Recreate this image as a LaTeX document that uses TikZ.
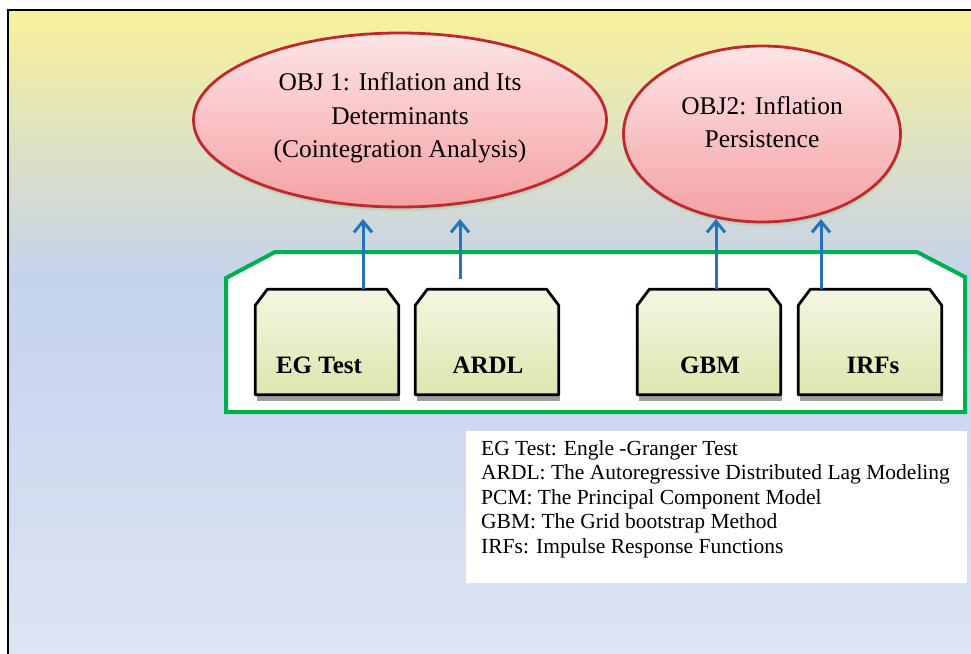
\documentclass[tikz,border=0pt]{standalone}
\usepackage{fontspec}
\setmainfont{Liberation Serif}
\usetikzlibrary{shapes.geometric,arrows.meta}
\definecolor{bgyel}{HTML}{F8F19A}
\definecolor{bgmid}{HTML}{E2E9BC}
\definecolor{bgblue}{HTML}{C4D2EC}
\definecolor{bgbot}{HTML}{DEE5F4}
\definecolor{ellred}{HTML}{C0282D}
\definecolor{elltop}{HTML}{FDE4E6}
\definecolor{ellbot}{HTML}{F4A1A4}
\definecolor{frgreen}{HTML}{00B050}
\definecolor{arrblue}{HTML}{2473BC}
\definecolor{boxtop}{HTML}{F3F7E2}
\definecolor{boxbot}{HTML}{DCE6AE}
\tikzset{
  objell/.style={ellipse, draw=ellred, line width=2.8pt, top color=elltop, bottom color=ellbot, inner sep=0pt},
  ellshadow/.style={ellipse, fill=black!60!green!40, opacity=0.35, inner sep=0pt},
  methbox/.style={rectangle, minimum width=143pt, minimum height=105pt, inner sep=0pt},
  boxline/.style={draw=black, line width=2.8pt, line join=round, top color=boxtop, bottom color=boxbot},
  shadowbox/.style={fill=black!38, minimum width=143pt, minimum height=6pt, inner sep=0pt},
  boxlabel/.style={font=\fontsize{25}{28}\selectfont\bfseries, anchor=base},
  objtext/.style={font=\fontsize{25.5}{33.5}\selectfont, align=center},
  uparr/.style={draw=arrblue, line width=3pt, -{Straight Barb[length=11pt,width=18pt,line width=3pt]}},
  legend/.style={fill=white, minimum width=501pt, minimum height=152pt, inner sep=0pt},
  legtext/.style={font=\fontsize{21.5}{24.5}\selectfont, align=left, anchor=north west, inner sep=0pt}
}
\begin{document}
\begin{tikzpicture}[x=1pt,y=-1pt]
\useasboundingbox (0,0) rectangle (971,653);
% background
\shade[top color=bgyel, middle color=bgmid, bottom color=bgblue] (8,10) rectangle (975,280.5);
\shade[top color=bgblue, bottom color=bgbot] (8,280) rectangle (975,658);
\draw[black, line width=1.8pt] (975,10) -- (8,10) -- (8,658);
% ellipse shadows
\node[ellshadow, minimum width=413pt, minimum height=174pt] (sh1) at (401,124) {};
\node[ellshadow, minimum width=277pt, minimum height=176pt] (sh2) at (763,138) {};
% ellipses
\node[objell, minimum width=413pt, minimum height=174pt] (obj1) at (400,120) {};
\node[objtext] (obj1t) at (400,118) {OBJ 1: Inflation and Its\\Determinants\\(Cointegration Analysis)};
\node[objell, minimum width=277pt, minimum height=176pt] (obj2) at (762,134) {};
\node[objtext] (obj2t) at (762,122) {OBJ2: Inflation\\Persistence};
% green frame
\draw[frgreen, line width=4pt, fill=white] (226,278) -- (275,252) -- (917,252) -- (965,277) -- (965,412) -- (226,412) -- cycle;
% method boxes with shadows
\foreach \n/\x in {s1/327, s2/487, s3/709, s4/870}{
  \node[shadowbox] (\n) at (\x+1,398) {};
}
\node[methbox] (eg) at (327,342) {};
\node[methbox] (ardl) at (487,342) {};
\node[methbox] (gbm) at (709,342) {};
\node[methbox] (irf) at (870,342) {};
\foreach \b in {eg,ardl,gbm,irf}{
  \path[boxline] ([yshift=-16pt]\b.north west) -- ([xshift=12pt]\b.north west) -- ([xshift=-12pt]\b.north east)
     -- ([yshift=-16pt]\b.north east) -- (\b.south east) -- (\b.south west) -- cycle;
}
\node[boxlabel] (egl) at (319,373) {EG Test};
\node[boxlabel] (ardll) at (488,373) {ARDL};
\node[boxlabel] (gbml) at (710,373) {GBM};
\node[boxlabel] (irfl) at (873,373) {IRFs};
% arrows
\coordinate (t1) at (363,219);
\coordinate (t2) at (460,219);
\coordinate (t3) at (716,219);
\coordinate (t4) at (821,219);
\coordinate (b2) at (460,279);
\draw[uparr] (eg.north -| t1) -- (t1);
\draw[uparr] (b2) -- (t2);
\draw[uparr] (gbm.north -| t3) -- (t3);
\draw[uparr] (irf.north -| t4) -- (t4);
% legend
\node[legend] (leg) at (716.5,507) {};
\node[legtext] (legt) at (481,440) {EG Test: Engle -Granger Test\\ARDL: The Autoregressive Distributed Lag Modeling\\PCM: The Principal Component Model\\GBM: The Grid bootstrap Method\\IRFs: Impulse Response Functions};
\end{tikzpicture}
\end{document}
